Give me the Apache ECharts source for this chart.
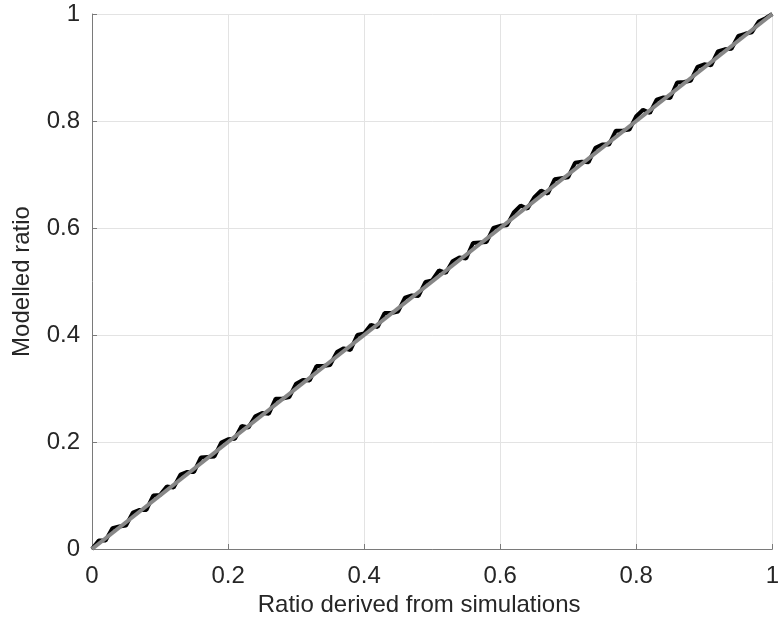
<!DOCTYPE html>
<html>
<head>
<meta charset="utf-8">
<script src="https://cdn.jsdelivr.net/npm/echarts@6/dist/echarts.min.js"></script>
<style>html,body{margin:0;padding:0;background:#fff}#c{width:782px;height:630px}</style>
</head>
<body>
<div id="c"></div>
<script>
const simRatio = [0.00,0.01,0.02,0.03,0.04,0.05,0.06,0.07,0.08,0.09,0.10,0.11,0.12,0.13,0.14,0.15,0.16,0.17,0.18,0.19,0.20,0.21,0.22,0.23,0.24,0.25,0.26,0.27,0.28,0.29,0.30,0.31,0.32,0.33,0.34,0.35,0.36,0.37,0.38,0.39,0.40,0.41,0.42,0.43,0.44,0.45,0.46,0.47,0.48,0.49,0.50,0.51,0.52,0.53,0.54,0.55,0.56,0.57,0.58,0.59,0.60,0.61,0.62,0.63,0.64,0.65,0.66,0.67,0.68,0.69,0.70,0.71,0.72,0.73,0.74,0.75,0.76,0.77,0.78,0.79,0.80,0.81,0.82,0.83,0.84,0.85,0.86,0.87,0.88,0.89,0.90,0.91,0.92,0.93,0.94,0.95,0.96,0.97,0.98,0.99,1.00];
const modelledRatio = [0,0.016,0.016,0.039,0.042,0.044,0.068,0.073,0.073,0.100,0.101,0.117,0.115,0.139,0.144,0.144,0.171,0.172,0.173,0.199,0.205,0.206,0.230,0.227,0.248,0.254,0.253,0.281,0.281,0.284,0.309,0.316,0.315,0.342,0.342,0.344,0.368,0.375,0.372,0.400,0.403,0.419,0.415,0.441,0.441,0.444,0.470,0.474,0.473,0.499,0.502,0.521,0.516,0.538,0.545,0.543,0.572,0.573,0.574,0.600,0.604,0.605,0.629,0.642,0.636,0.657,0.670,0.664,0.691,0.693,0.695,0.722,0.724,0.723,0.750,0.756,0.756,0.782,0.782,0.784,0.809,0.821,0.815,0.840,0.844,0.843,0.872,0.873,0.875,0.901,0.906,0.904,0.930,0.934,0.935,0.959,0.963,0.966,0.986,0.992,1.000];
const identityX = [0, 1];
const identityY = [0, 1];
const tickValues = [0, 0.2, 0.4, 0.6, 0.8, 1];
const xTitle = 'Ratio derived from simulations';
const yTitle = 'Modelled ratio';

const font = 'Liberation Sans, Arial, Helvetica, sans-serif';
const chart = echarts.init(document.getElementById('c'), null, {renderer: 'canvas'});
const axisCommon = {
  type: 'value', min: 0, max: 1, interval: 0.2,
  axisLine: {show: true, lineStyle: {color: '#7a7a7a', width: 1}},
  axisTick: {show: true, inside: true, length: 5, lineStyle: {color: '#7a7a7a'}},
  splitLine: {show: true, lineStyle: {color: '#e3e3e3', width: 1}},
  axisLabel: {color: '#262626', fontSize: 24, fontFamily: font, margin: 12,
    formatter: v => String(tickValues[Math.round(v / 0.2)])},
  nameTextStyle: {color: '#262626', fontSize: 24, fontFamily: font},
  nameLocation: 'middle'
};
chart.setOption({
  animation: false,
  backgroundColor: '#fff',
  grid: {left: 92, right: 4, top: 14, bottom: 81, containLabel: false},
  xAxis: Object.assign({}, axisCommon, {name: xTitle, nameGap: 39,
    nameTextStyle: {color: '#262626', fontSize: 24, fontFamily: font, padding: [0, 26, 0, 0]},
    axisLabel: Object.assign({}, axisCommon.axisLabel, {margin: 15})}),
  yAxis: Object.assign({}, axisCommon, {name: yTitle, nameGap: 58}),
  series: [
    {type: 'line', data: simRatio.map((x, i) => [x, modelledRatio[i]]), showSymbol: false,
     lineStyle: {color: '#000', width: 4}, z: 2},
    {type: 'line', data: identityX.map((x, i) => [x, identityY[i]]), showSymbol: false,
     lineStyle: {color: '#878787', width: 4}, z: 3}
  ]
});
</script>
</body>
</html>
